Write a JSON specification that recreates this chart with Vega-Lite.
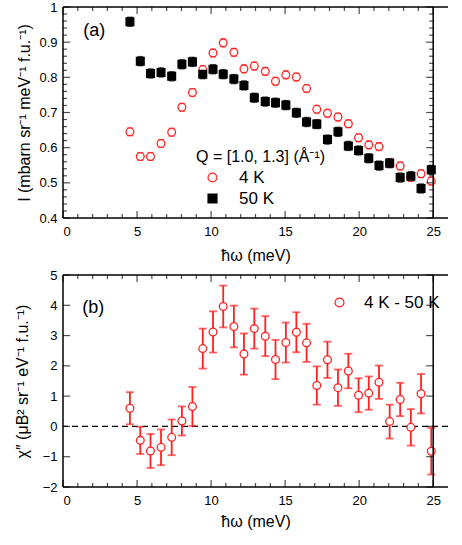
{
  "$schema": "https://vega.github.io/schema/vega-lite/v6.json",
  "padding": {"left": 14, "top": 1, "right": 2, "bottom": 5},
  "background": "white",
  "config": {
    "font": "Liberation Sans",
    "view": {"stroke": null},
    "axis": {
      "domain": false, "grid": false, "ticks": false,
      "labelFont": "Liberation Sans", "labelFontSize": 13, "labelColor": "black",
      "titleFont": "Liberation Sans", "titleFontSize": 16, "titleFontWeight": "normal", "titleColor": "black"
    },
    "legend": {"labelFont": "Liberation Sans", "titleFont": "Liberation Sans", "labelColor": "black", "titleColor": "black"}
  },
  "datasets": {
    "top": [
      {"E": 4.52, "T": "4 K", "I": 0.645, "lo": 0.634, "hi": 0.656},
      {"E": 5.22, "T": "4 K", "I": 0.575, "lo": 0.564, "hi": 0.586},
      {"E": 5.91, "T": "4 K", "I": 0.575, "lo": 0.564, "hi": 0.586},
      {"E": 6.62, "T": "4 K", "I": 0.612, "lo": 0.601, "hi": 0.623},
      {"E": 7.34, "T": "4 K", "I": 0.644, "lo": 0.633, "hi": 0.655},
      {"E": 8.03, "T": "4 K", "I": 0.715, "lo": 0.704, "hi": 0.726},
      {"E": 8.74, "T": "4 K", "I": 0.757, "lo": 0.746, "hi": 0.768},
      {"E": 9.44, "T": "4 K", "I": 0.822, "lo": 0.811, "hi": 0.833},
      {"E": 10.13, "T": "4 K", "I": 0.869, "lo": 0.858, "hi": 0.880},
      {"E": 10.82, "T": "4 K", "I": 0.898, "lo": 0.887, "hi": 0.909},
      {"E": 11.54, "T": "4 K", "I": 0.871, "lo": 0.860, "hi": 0.882},
      {"E": 12.22, "T": "4 K", "I": 0.824, "lo": 0.813, "hi": 0.835},
      {"E": 12.92, "T": "4 K", "I": 0.832, "lo": 0.821, "hi": 0.843},
      {"E": 13.66, "T": "4 K", "I": 0.817, "lo": 0.806, "hi": 0.828},
      {"E": 14.35, "T": "4 K", "I": 0.789, "lo": 0.778, "hi": 0.800},
      {"E": 15.05, "T": "4 K", "I": 0.807, "lo": 0.796, "hi": 0.818},
      {"E": 15.76, "T": "4 K", "I": 0.801, "lo": 0.790, "hi": 0.812},
      {"E": 16.45, "T": "4 K", "I": 0.768, "lo": 0.757, "hi": 0.779},
      {"E": 17.14, "T": "4 K", "I": 0.709, "lo": 0.698, "hi": 0.720},
      {"E": 17.86, "T": "4 K", "I": 0.698, "lo": 0.687, "hi": 0.709},
      {"E": 18.57, "T": "4 K", "I": 0.687, "lo": 0.676, "hi": 0.698},
      {"E": 19.27, "T": "4 K", "I": 0.668, "lo": 0.657, "hi": 0.679},
      {"E": 19.96, "T": "4 K", "I": 0.628, "lo": 0.617, "hi": 0.639},
      {"E": 20.65, "T": "4 K", "I": 0.608, "lo": 0.597, "hi": 0.619},
      {"E": 21.34, "T": "4 K", "I": 0.603, "lo": 0.592, "hi": 0.614},
      {"E": 22.06, "T": "4 K", "I": 0.556, "lo": 0.545, "hi": 0.567},
      {"E": 22.77, "T": "4 K", "I": 0.548, "lo": 0.537, "hi": 0.559},
      {"E": 23.49, "T": "4 K", "I": 0.515, "lo": 0.504, "hi": 0.526},
      {"E": 24.18, "T": "4 K", "I": 0.526, "lo": 0.515, "hi": 0.537},
      {"E": 24.87, "T": "4 K", "I": 0.505, "lo": 0.494, "hi": 0.516},
      {"E": 4.52, "T": "50 K", "I": 0.958, "lo": 0.945, "hi": 0.971},
      {"E": 5.22, "T": "50 K", "I": 0.846, "lo": 0.833, "hi": 0.859},
      {"E": 5.91, "T": "50 K", "I": 0.811, "lo": 0.798, "hi": 0.824},
      {"E": 6.62, "T": "50 K", "I": 0.814, "lo": 0.801, "hi": 0.827},
      {"E": 7.34, "T": "50 K", "I": 0.803, "lo": 0.790, "hi": 0.816},
      {"E": 8.03, "T": "50 K", "I": 0.837, "lo": 0.824, "hi": 0.850},
      {"E": 8.74, "T": "50 K", "I": 0.844, "lo": 0.831, "hi": 0.857},
      {"E": 9.44, "T": "50 K", "I": 0.809, "lo": 0.796, "hi": 0.822},
      {"E": 10.13, "T": "50 K", "I": 0.823, "lo": 0.810, "hi": 0.836},
      {"E": 10.82, "T": "50 K", "I": 0.809, "lo": 0.796, "hi": 0.822},
      {"E": 11.54, "T": "50 K", "I": 0.795, "lo": 0.782, "hi": 0.808},
      {"E": 12.22, "T": "50 K", "I": 0.777, "lo": 0.764, "hi": 0.790},
      {"E": 12.92, "T": "50 K", "I": 0.742, "lo": 0.729, "hi": 0.755},
      {"E": 13.66, "T": "50 K", "I": 0.731, "lo": 0.718, "hi": 0.744},
      {"E": 14.35, "T": "50 K", "I": 0.728, "lo": 0.715, "hi": 0.741},
      {"E": 15.05, "T": "50 K", "I": 0.721, "lo": 0.708, "hi": 0.734},
      {"E": 15.76, "T": "50 K", "I": 0.699, "lo": 0.686, "hi": 0.712},
      {"E": 16.45, "T": "50 K", "I": 0.673, "lo": 0.660, "hi": 0.686},
      {"E": 17.14, "T": "50 K", "I": 0.667, "lo": 0.654, "hi": 0.680},
      {"E": 17.86, "T": "50 K", "I": 0.623, "lo": 0.610, "hi": 0.636},
      {"E": 18.57, "T": "50 K", "I": 0.645, "lo": 0.632, "hi": 0.658},
      {"E": 19.27, "T": "50 K", "I": 0.605, "lo": 0.592, "hi": 0.618},
      {"E": 19.96, "T": "50 K", "I": 0.592, "lo": 0.579, "hi": 0.605},
      {"E": 20.65, "T": "50 K", "I": 0.570, "lo": 0.557, "hi": 0.583},
      {"E": 21.34, "T": "50 K", "I": 0.549, "lo": 0.536, "hi": 0.562},
      {"E": 22.06, "T": "50 K", "I": 0.556, "lo": 0.543, "hi": 0.569},
      {"E": 22.77, "T": "50 K", "I": 0.515, "lo": 0.502, "hi": 0.528},
      {"E": 23.49, "T": "50 K", "I": 0.519, "lo": 0.506, "hi": 0.532},
      {"E": 24.18, "T": "50 K", "I": 0.484, "lo": 0.471, "hi": 0.497},
      {"E": 24.87, "T": "50 K", "I": 0.537, "lo": 0.524, "hi": 0.550}
    ],
    "bottom": [
      {"E": 4.52, "S": "4 K - 50 K", "chi": 0.60, "lo": 0.07, "hi": 1.13},
      {"E": 5.22, "S": "4 K - 50 K", "chi": -0.46, "lo": -0.91, "hi": -0.01},
      {"E": 5.91, "S": "4 K - 50 K", "chi": -0.81, "lo": -1.37, "hi": -0.25},
      {"E": 6.62, "S": "4 K - 50 K", "chi": -0.69, "lo": -1.28, "hi": -0.10},
      {"E": 7.34, "S": "4 K - 50 K", "chi": -0.36, "lo": -0.95, "hi": 0.23},
      {"E": 8.03, "S": "4 K - 50 K", "chi": 0.18, "lo": -0.30, "hi": 0.66},
      {"E": 8.74, "S": "4 K - 50 K", "chi": 0.66, "lo": 0.02, "hi": 1.30},
      {"E": 9.44, "S": "4 K - 50 K", "chi": 2.57, "lo": 1.91, "hi": 3.23},
      {"E": 10.13, "S": "4 K - 50 K", "chi": 3.12, "lo": 2.44, "hi": 3.80},
      {"E": 10.82, "S": "4 K - 50 K", "chi": 3.96, "lo": 3.27, "hi": 4.65},
      {"E": 11.54, "S": "4 K - 50 K", "chi": 3.30, "lo": 2.61, "hi": 3.99},
      {"E": 12.22, "S": "4 K - 50 K", "chi": 2.39, "lo": 1.71, "hi": 3.07},
      {"E": 12.92, "S": "4 K - 50 K", "chi": 3.23, "lo": 2.57, "hi": 3.89},
      {"E": 13.66, "S": "4 K - 50 K", "chi": 2.98, "lo": 2.32, "hi": 3.64},
      {"E": 14.35, "S": "4 K - 50 K", "chi": 2.21, "lo": 1.56, "hi": 2.86},
      {"E": 15.05, "S": "4 K - 50 K", "chi": 2.77, "lo": 2.11, "hi": 3.43},
      {"E": 15.76, "S": "4 K - 50 K", "chi": 3.11, "lo": 2.45, "hi": 3.77},
      {"E": 16.45, "S": "4 K - 50 K", "chi": 2.76, "lo": 2.13, "hi": 3.39},
      {"E": 17.14, "S": "4 K - 50 K", "chi": 1.35, "lo": 0.72, "hi": 1.98},
      {"E": 17.86, "S": "4 K - 50 K", "chi": 2.20, "lo": 1.60, "hi": 2.80},
      {"E": 18.57, "S": "4 K - 50 K", "chi": 1.28, "lo": 0.68, "hi": 1.88},
      {"E": 19.27, "S": "4 K - 50 K", "chi": 1.83, "lo": 1.26, "hi": 2.40},
      {"E": 19.96, "S": "4 K - 50 K", "chi": 1.03, "lo": 0.47, "hi": 1.59},
      {"E": 20.65, "S": "4 K - 50 K", "chi": 1.10, "lo": 0.55, "hi": 1.65},
      {"E": 21.34, "S": "4 K - 50 K", "chi": 1.46, "lo": 0.91, "hi": 2.01},
      {"E": 22.06, "S": "4 K - 50 K", "chi": 0.16, "lo": -0.40, "hi": 0.72},
      {"E": 22.77, "S": "4 K - 50 K", "chi": 0.89, "lo": 0.34, "hi": 1.44},
      {"E": 23.49, "S": "4 K - 50 K", "chi": -0.03, "lo": -0.63, "hi": 0.57},
      {"E": 24.18, "S": "4 K - 50 K", "chi": 1.08, "lo": 0.43, "hi": 1.73},
      {"E": 24.87, "S": "4 K - 50 K", "chi": -0.82, "lo": -1.59, "hi": -0.05}
    ],
    "xt": [
      {"v": 0, "k": "major", "b1": 0.4, "t1": 1, "b2": -2, "t2": 5},
      {"v": 1, "k": "minor", "b1": 0.4, "t1": 1, "b2": -2, "t2": 5},
      {"v": 2, "k": "minor", "b1": 0.4, "t1": 1, "b2": -2, "t2": 5},
      {"v": 3, "k": "minor", "b1": 0.4, "t1": 1, "b2": -2, "t2": 5},
      {"v": 4, "k": "minor", "b1": 0.4, "t1": 1, "b2": -2, "t2": 5},
      {"v": 5, "k": "major", "b1": 0.4, "t1": 1, "b2": -2, "t2": 5},
      {"v": 6, "k": "minor", "b1": 0.4, "t1": 1, "b2": -2, "t2": 5},
      {"v": 7, "k": "minor", "b1": 0.4, "t1": 1, "b2": -2, "t2": 5},
      {"v": 8, "k": "minor", "b1": 0.4, "t1": 1, "b2": -2, "t2": 5},
      {"v": 9, "k": "minor", "b1": 0.4, "t1": 1, "b2": -2, "t2": 5},
      {"v": 10, "k": "major", "b1": 0.4, "t1": 1, "b2": -2, "t2": 5},
      {"v": 11, "k": "minor", "b1": 0.4, "t1": 1, "b2": -2, "t2": 5},
      {"v": 12, "k": "minor", "b1": 0.4, "t1": 1, "b2": -2, "t2": 5},
      {"v": 13, "k": "minor", "b1": 0.4, "t1": 1, "b2": -2, "t2": 5},
      {"v": 14, "k": "minor", "b1": 0.4, "t1": 1, "b2": -2, "t2": 5},
      {"v": 15, "k": "major", "b1": 0.4, "t1": 1, "b2": -2, "t2": 5},
      {"v": 16, "k": "minor", "b1": 0.4, "t1": 1, "b2": -2, "t2": 5},
      {"v": 17, "k": "minor", "b1": 0.4, "t1": 1, "b2": -2, "t2": 5},
      {"v": 18, "k": "minor", "b1": 0.4, "t1": 1, "b2": -2, "t2": 5},
      {"v": 19, "k": "minor", "b1": 0.4, "t1": 1, "b2": -2, "t2": 5},
      {"v": 20, "k": "major", "b1": 0.4, "t1": 1, "b2": -2, "t2": 5},
      {"v": 21, "k": "minor", "b1": 0.4, "t1": 1, "b2": -2, "t2": 5},
      {"v": 22, "k": "minor", "b1": 0.4, "t1": 1, "b2": -2, "t2": 5},
      {"v": 23, "k": "minor", "b1": 0.4, "t1": 1, "b2": -2, "t2": 5},
      {"v": 24, "k": "minor", "b1": 0.4, "t1": 1, "b2": -2, "t2": 5},
      {"v": 25, "k": "major", "b1": 0.4, "t1": 1, "b2": -2, "t2": 5}
    ],
    "ytop": [
      {"v": 0.40, "k": "major", "l": 0, "r": 25}, {"v": 0.42, "k": "minor", "l": 0, "r": 25}, {"v": 0.44, "k": "minor", "l": 0, "r": 25}, {"v": 0.46, "k": "minor", "l": 0, "r": 25}, {"v": 0.48, "k": "minor", "l": 0, "r": 25},
      {"v": 0.50, "k": "major", "l": 0, "r": 25}, {"v": 0.52, "k": "minor", "l": 0, "r": 25}, {"v": 0.54, "k": "minor", "l": 0, "r": 25}, {"v": 0.56, "k": "minor", "l": 0, "r": 25}, {"v": 0.58, "k": "minor", "l": 0, "r": 25},
      {"v": 0.60, "k": "major", "l": 0, "r": 25}, {"v": 0.62, "k": "minor", "l": 0, "r": 25}, {"v": 0.64, "k": "minor", "l": 0, "r": 25}, {"v": 0.66, "k": "minor", "l": 0, "r": 25}, {"v": 0.68, "k": "minor", "l": 0, "r": 25},
      {"v": 0.70, "k": "major", "l": 0, "r": 25}, {"v": 0.72, "k": "minor", "l": 0, "r": 25}, {"v": 0.74, "k": "minor", "l": 0, "r": 25}, {"v": 0.76, "k": "minor", "l": 0, "r": 25}, {"v": 0.78, "k": "minor", "l": 0, "r": 25},
      {"v": 0.80, "k": "major", "l": 0, "r": 25}, {"v": 0.82, "k": "minor", "l": 0, "r": 25}, {"v": 0.84, "k": "minor", "l": 0, "r": 25}, {"v": 0.86, "k": "minor", "l": 0, "r": 25}, {"v": 0.88, "k": "minor", "l": 0, "r": 25},
      {"v": 0.90, "k": "major", "l": 0, "r": 25}, {"v": 0.92, "k": "minor", "l": 0, "r": 25}, {"v": 0.94, "k": "minor", "l": 0, "r": 25}, {"v": 0.96, "k": "minor", "l": 0, "r": 25}, {"v": 0.98, "k": "minor", "l": 0, "r": 25},
      {"v": 1.00, "k": "major", "l": 0, "r": 25}
    ],
    "ybot": [
      {"v": -2, "l": 0, "r": 25}, {"v": -1, "l": 0, "r": 25}, {"v": 0, "l": 0, "r": 25}, {"v": 1, "l": 0, "r": 25},
      {"v": 2, "l": 0, "r": 25}, {"v": 3, "l": 0, "r": 25}, {"v": 4, "l": 0, "r": 25}, {"v": 5, "l": 0, "r": 25}
    ],
    "fx": [{"fx": 0}, {"fx": 25}],
    "fy1": [{"fy": 0.4}, {"fy": 1}],
    "fy2": [{"fy": -2}, {"fy": 5}]
  },
  "spacing": 6,
  "resolve": {
    "scale": {"color": "independent", "shape": "independent", "stroke": "independent", "fill": "independent"},
    "legend": {"color": "independent", "shape": "independent", "stroke": "independent", "fill": "independent"}
  },
  "vconcat": [
    {
      "width": 385,
      "height": 211,
      "data": {"name": "top"},
      "layer": [
        {
          "mark": {"type": "rule", "strokeWidth": 1.3},
          "encoding": {
            "x": {"field": "E", "type": "quantitative", "scale": {"domain": [0, 25]}, "axis": null},
            "y": {"field": "lo", "type": "quantitative", "scale": {"domain": [0.4, 1]}, "axis": null},
            "y2": {"field": "hi"},
            "color": {"field": "T", "type": "nominal", "scale": {"domain": ["50 K", "4 K"], "range": ["black", "#ff2020"]}, "legend": null}
          }
        },
        {
          "mark": {"type": "tick", "orient": "horizontal", "size": 6, "thickness": 1.3},
          "encoding": {
            "x": {"field": "E", "type": "quantitative", "axis": null},
            "y": {"field": "lo", "type": "quantitative", "axis": null},
            "color": {"field": "T", "type": "nominal", "scale": {"domain": ["50 K", "4 K"], "range": ["black", "#ff2020"]}, "legend": null}
          }
        },
        {
          "mark": {"type": "tick", "orient": "horizontal", "size": 6, "thickness": 1.3},
          "encoding": {
            "x": {"field": "E", "type": "quantitative", "axis": null},
            "y": {"field": "hi", "type": "quantitative", "axis": null},
            "color": {"field": "T", "type": "nominal", "scale": {"domain": ["50 K", "4 K"], "range": ["black", "#ff2020"]}, "legend": null}
          }
        },
        {
          "mark": {"type": "point", "opacity": 1, "strokeWidth": 1.3, "size": 60},
          "encoding": {
            "x": {"field": "E", "type": "quantitative", "scale": {"domain": [0, 25]},
              "axis": {"orient": "bottom", "values": [0, 5, 10, 15, 20, 25], "labelPadding": 7, "title": "ħω (meV)", "titlePadding": 9}},
            "y": {"field": "I", "type": "quantitative", "scale": {"domain": [0.4, 1]},
              "axis": {"orient": "left", "values": [0.4, 0.5, 0.6, 0.7, 0.8, 0.9, 1], "format": "~g", "labelPadding": 6, "title": "I (mbarn sr⁻¹ meV⁻¹ f.u.⁻¹)", "titlePadding": 6}},
            "shape": {"field": "T", "type": "nominal", "scale": {"domain": ["4 K", "50 K"], "range": ["circle", "square"]},
              "legend": {"orient": "none", "legendX": 133, "legendY": 142, "title": "Q = [1.0, 1.3] (Å⁻¹)", "titleFontSize": 16, "titleFontWeight": "normal", "labelFontSize": 17, "symbolSize": 80, "symbolOffset": 8, "labelOffset": 18, "rowPadding": 3, "titlePadding": 4, "symbolStrokeWidth": 1.2}},
            "stroke": {"field": "T", "type": "nominal", "scale": {"domain": ["4 K", "50 K"], "range": ["#ff2020", "black"]},
              "legend": {"orient": "none", "legendX": 133, "legendY": 142, "title": "Q = [1.0, 1.3] (Å⁻¹)", "titleFontSize": 16, "titleFontWeight": "normal", "labelFontSize": 17, "symbolSize": 80, "symbolOffset": 8, "labelOffset": 18, "rowPadding": 3, "titlePadding": 4, "symbolStrokeWidth": 1.2}},
            "fill": {"field": "T", "type": "nominal", "scale": {"domain": ["4 K", "50 K"], "range": ["white", "black"]},
              "legend": {"orient": "none", "legendX": 133, "legendY": 142, "title": "Q = [1.0, 1.3] (Å⁻¹)", "titleFontSize": 16, "titleFontWeight": "normal", "labelFontSize": 17, "symbolSize": 80, "symbolOffset": 8, "labelOffset": 18, "rowPadding": 3, "titlePadding": 4, "symbolStrokeWidth": 1.2}}
          }
        },
        {
          "data": {"name": "fy1"},
          "mark": {"type": "rule", "color": "black", "strokeWidth": 1.5},
          "encoding": {"y": {"field": "fy", "type": "quantitative", "axis": null}}
        },
        {
          "data": {"name": "fx"},
          "mark": {"type": "rule", "color": "black", "strokeWidth": 1.5},
          "encoding": {"x": {"field": "fx", "type": "quantitative", "axis": null}}
        },
        {
          "data": {"name": "xt"},
          "transform": [{"filter": "datum.k === 'major'"}],
          "mark": {"type": "tick", "orient": "vertical", "color": "black", "size": 7, "thickness": 1.2, "yOffset": -3.5},
          "encoding": {"x": {"field": "v", "type": "quantitative", "axis": null}, "y": {"field": "b1", "type": "quantitative", "axis": null}}
        },
        {
          "data": {"name": "xt"},
          "transform": [{"filter": "datum.k === 'minor'"}],
          "mark": {"type": "tick", "orient": "vertical", "color": "black", "size": 4, "thickness": 1.2, "yOffset": -2},
          "encoding": {"x": {"field": "v", "type": "quantitative", "axis": null}, "y": {"field": "b1", "type": "quantitative", "axis": null}}
        },
        {
          "data": {"name": "xt"},
          "transform": [{"filter": "datum.k === 'major'"}],
          "mark": {"type": "tick", "orient": "vertical", "color": "black", "size": 7, "thickness": 1.2, "yOffset": 3.5},
          "encoding": {"x": {"field": "v", "type": "quantitative", "axis": null}, "y": {"field": "t1", "type": "quantitative", "axis": null}}
        },
        {
          "data": {"name": "xt"},
          "transform": [{"filter": "datum.k === 'minor'"}],
          "mark": {"type": "tick", "orient": "vertical", "color": "black", "size": 4, "thickness": 1.2, "yOffset": 2},
          "encoding": {"x": {"field": "v", "type": "quantitative", "axis": null}, "y": {"field": "t1", "type": "quantitative", "axis": null}}
        },
        {
          "data": {"name": "ytop"},
          "transform": [{"filter": "datum.k === 'major'"}],
          "mark": {"type": "tick", "orient": "horizontal", "color": "black", "size": 7, "thickness": 1.2, "xOffset": 3.5},
          "encoding": {"y": {"field": "v", "type": "quantitative", "axis": null}, "x": {"field": "l", "type": "quantitative", "axis": null}}
        },
        {
          "data": {"name": "ytop"},
          "transform": [{"filter": "datum.k === 'minor'"}],
          "mark": {"type": "tick", "orient": "horizontal", "color": "black", "size": 4, "thickness": 1.2, "xOffset": 2},
          "encoding": {"y": {"field": "v", "type": "quantitative", "axis": null}, "x": {"field": "l", "type": "quantitative", "axis": null}}
        },
        {
          "data": {"name": "ytop"},
          "transform": [{"filter": "datum.k === 'major'"}],
          "mark": {"type": "tick", "orient": "horizontal", "color": "black", "size": 7, "thickness": 1.2, "xOffset": -3.5},
          "encoding": {"y": {"field": "v", "type": "quantitative", "axis": null}, "x": {"field": "r", "type": "quantitative", "axis": null}}
        },
        {
          "data": {"name": "ytop"},
          "transform": [{"filter": "datum.k === 'minor'"}],
          "mark": {"type": "tick", "orient": "horizontal", "color": "black", "size": 4, "thickness": 1.2, "xOffset": -2},
          "encoding": {"y": {"field": "v", "type": "quantitative", "axis": null}, "x": {"field": "r", "type": "quantitative", "axis": null}}
        },
        {
          "data": {"values": [{"label": "(a)"}]},
          "mark": {"type": "text", "fontSize": 18, "align": "left", "baseline": "middle", "font": "Liberation Sans", "fontWeight": "normal", "color": "black"},
          "encoding": {
            "text": {"field": "label"},
            "x": {"datum": 1.36, "type": "quantitative", "axis": null},
            "y": {"datum": 0.932, "type": "quantitative", "axis": null}
          }
        }
      ],
      "resolve": {"axis": {"x": "independent", "y": "independent"}}
    },
    {
      "width": 385,
      "height": 212,
      "data": {"name": "bottom"},
      "layer": [
        {
          "data": {"values": [{"zero": 0}]},
          "mark": {"type": "rule", "strokeDash": [6, 4], "color": "black", "strokeWidth": 1.2},
          "encoding": {
            "y": {"field": "zero", "type": "quantitative", "scale": {"domain": [-2, 5]}, "axis": null}
          }
        },
        {
          "mark": {"type": "rule", "strokeWidth": 1.8, "color": "#ff2020"},
          "encoding": {
            "x": {"field": "E", "type": "quantitative", "scale": {"domain": [0, 25]}, "axis": null},
            "y": {"field": "lo", "type": "quantitative", "axis": null},
            "y2": {"field": "hi"}
          }
        },
        {
          "mark": {"type": "tick", "orient": "horizontal", "size": 8, "thickness": 1.8, "color": "#ff2020"},
          "encoding": {
            "x": {"field": "E", "type": "quantitative", "axis": null},
            "y": {"field": "lo", "type": "quantitative", "axis": null}
          }
        },
        {
          "mark": {"type": "tick", "orient": "horizontal", "size": 8, "thickness": 1.8, "color": "#ff2020"},
          "encoding": {
            "x": {"field": "E", "type": "quantitative", "axis": null},
            "y": {"field": "hi", "type": "quantitative", "axis": null}
          }
        },
        {
          "mark": {"type": "point", "opacity": 1, "strokeWidth": 1.3, "size": 60},
          "encoding": {
            "x": {"field": "E", "type": "quantitative", "scale": {"domain": [0, 25]},
              "axis": {"orient": "bottom", "values": [0, 5, 10, 15, 20, 25], "labelPadding": 7, "title": "ħω (meV)", "titlePadding": 6}},
            "y": {"field": "chi", "type": "quantitative", "scale": {"domain": [-2, 5]},
              "axis": {"orient": "left", "values": [-2, -1, 0, 1, 2, 3, 4, 5], "labelPadding": 6, "title": "χ″ (μB² sr⁻¹ eV⁻¹ f.u.⁻¹)", "titlePadding": 12}},
            "shape": {"field": "S", "type": "nominal", "scale": {"domain": ["4 K - 50 K"], "range": ["circle"]},
              "legend": {"orient": "none", "legendX": 268, "legendY": 19, "title": null, "labelFontSize": 17, "symbolSize": 80, "labelOffset": 16, "symbolStrokeWidth": 1.2}},
            "stroke": {"field": "S", "type": "nominal", "scale": {"domain": ["4 K - 50 K"], "range": ["#ff2020"]},
              "legend": {"orient": "none", "legendX": 268, "legendY": 19, "title": null, "labelFontSize": 17, "symbolSize": 80, "labelOffset": 16, "symbolStrokeWidth": 1.2}},
            "fill": {"field": "S", "type": "nominal", "scale": {"domain": ["4 K - 50 K"], "range": ["white"]},
              "legend": {"orient": "none", "legendX": 268, "legendY": 19, "title": null, "labelFontSize": 17, "symbolSize": 80, "labelOffset": 16, "symbolStrokeWidth": 1.2}}
          }
        },
        {
          "data": {"name": "fy2"},
          "mark": {"type": "rule", "color": "black", "strokeWidth": 1.5},
          "encoding": {"y": {"field": "fy", "type": "quantitative", "axis": null}}
        },
        {
          "data": {"name": "fx"},
          "mark": {"type": "rule", "color": "black", "strokeWidth": 1.5},
          "encoding": {"x": {"field": "fx", "type": "quantitative", "axis": null}}
        },
        {
          "data": {"name": "xt"},
          "transform": [{"filter": "datum.k === 'major'"}],
          "mark": {"type": "tick", "orient": "vertical", "color": "black", "size": 7, "thickness": 1.2, "yOffset": -3.5},
          "encoding": {"x": {"field": "v", "type": "quantitative", "axis": null}, "y": {"field": "b2", "type": "quantitative", "axis": null}}
        },
        {
          "data": {"name": "xt"},
          "transform": [{"filter": "datum.k === 'minor'"}],
          "mark": {"type": "tick", "orient": "vertical", "color": "black", "size": 4, "thickness": 1.2, "yOffset": -2},
          "encoding": {"x": {"field": "v", "type": "quantitative", "axis": null}, "y": {"field": "b2", "type": "quantitative", "axis": null}}
        },
        {
          "data": {"name": "xt"},
          "transform": [{"filter": "datum.k === 'major'"}],
          "mark": {"type": "tick", "orient": "vertical", "color": "black", "size": 7, "thickness": 1.2, "yOffset": 3.5},
          "encoding": {"x": {"field": "v", "type": "quantitative", "axis": null}, "y": {"field": "t2", "type": "quantitative", "axis": null}}
        },
        {
          "data": {"name": "xt"},
          "transform": [{"filter": "datum.k === 'minor'"}],
          "mark": {"type": "tick", "orient": "vertical", "color": "black", "size": 4, "thickness": 1.2, "yOffset": 2},
          "encoding": {"x": {"field": "v", "type": "quantitative", "axis": null}, "y": {"field": "t2", "type": "quantitative", "axis": null}}
        },
        {
          "data": {"name": "ybot"},
          "mark": {"type": "tick", "orient": "horizontal", "color": "black", "size": 7, "thickness": 1.2, "xOffset": 3.5},
          "encoding": {"y": {"field": "v", "type": "quantitative", "axis": null}, "x": {"field": "l", "type": "quantitative", "axis": null}}
        },
        {
          "data": {"name": "ybot"},
          "mark": {"type": "tick", "orient": "horizontal", "color": "black", "size": 7, "thickness": 1.2, "xOffset": -3.5},
          "encoding": {"y": {"field": "v", "type": "quantitative", "axis": null}, "x": {"field": "r", "type": "quantitative", "axis": null}}
        },
        {
          "data": {"values": [{"label": "(b)"}]},
          "mark": {"type": "text", "fontSize": 18, "align": "left", "baseline": "middle", "font": "Liberation Sans", "fontWeight": "normal", "color": "black"},
          "encoding": {
            "text": {"field": "label"},
            "x": {"datum": 1.3, "type": "quantitative", "axis": null},
            "y": {"datum": 3.9, "type": "quantitative", "axis": null}
          }
        }
      ],
      "resolve": {"axis": {"x": "independent", "y": "independent"}}
    }
  ]
}
